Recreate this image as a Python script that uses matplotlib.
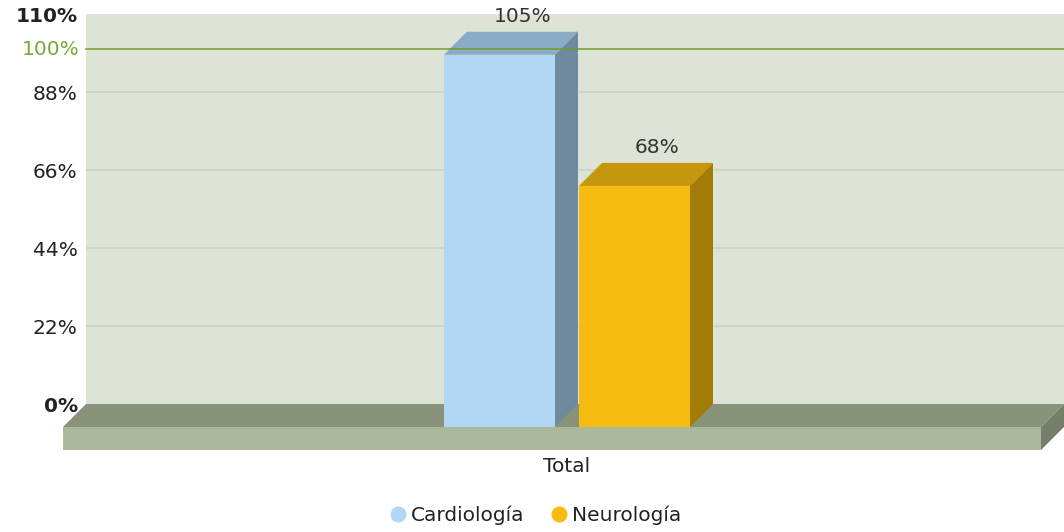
import matplotlib
matplotlib.use('Agg')
import matplotlib.pyplot as plt
from matplotlib.patches import Polygon
from matplotlib.lines import Line2D
from matplotlib.transforms import IdentityTransform

# ---- data ----
categories = ['Total']
series_names = ['Cardiología', 'Neurología']
values = [105, 68]
value_labels = ['105%', '68%']
yticks = [0, 22, 44, 66, 88, 110]
ytick_labels = ['0%', '22%', '44%', '66%', '88%', '110%']
target = 100
target_label = '100%'

front_colors = ['#b2d7f5', '#f5bb10']
top_colors = ['#8aabc6', '#c6960c']
side_colors = ['#6f8a9f', '#a37c08']

plt.rcParams['font.family'] = ['DejaVu Sans']
FS = 14.5

W, H, DPI = 1064, 532, 100
fig = plt.figure(figsize=(W / DPI, H / DPI), dpi=DPI)
L, R, B, T = 86, 1064, 404, 14
ax = fig.add_axes([L / W, 1 - B / H, (R - L) / W, (B - T) / H])
ax.set_facecolor('#dde3d5')
for s in ax.spines.values():
    s.set_visible(False)

unit_px = 270.0
bar_w = 111 / unit_px
pitch = 0.5
ax.set_xlim(-(590 - L) / unit_px, (R - 590) / unit_px)
ax.set_ylim(0, 110)
ax.set_xticks([])
ax.set_yticks(yticks)
ax.set_yticklabels(ytick_labels)
ax.tick_params(axis='y', length=0, pad=6, labelsize=FS, labelcolor='#222222')
for i, lab in enumerate(ax.get_yticklabels()):
    if i == 0 or i == len(yticks) - 1:
        lab.set_fontweight('bold')

for y in yticks[1:-1]:
    ax.axhline(y, color='#cbd1c4', lw=1.2, zorder=0.5)

D = 23  # depth in pixels
fig.canvas.draw()


def px(x, y, dx=0, dy=0):
    X, Y = ax.transData.transform((x, y))
    return (X + dx, Y + dy)


def poly(pts, color, z):
    p = Polygon(pts, closed=True, transform=IdentityTransform(), facecolor=color,
                edgecolor='none', zorder=z, clip_on=False)
    fig.add_artist(p)


xl, xr = ax.get_xlim()
# floor
poly([px(xl, 0), px(xr, 0), px(xr, 0, -D, -D), px(xl, 0, -D, -D)], '#88937a', 2)
poly([px(xl, 0, -D, -D), px(xr, 0, -D, -D), px(xr, 0, -D, -2 * D), px(xl, 0, -D, -2 * D)], '#abb89b', 2)
poly([px(xr, 0, -D, -D), px(xr, 0), px(xr, 0, 0, -D), px(xr, 0, -D, -2 * D)], '#747e68', 2)

# bars
n = len(series_names)
for i, (v, lab) in enumerate(zip(values, value_labels)):
    c = (i - (n - 1) / 2) * pitch
    x0, x1 = c - bar_w / 2, c + bar_w / 2
    poly([px(x0, 0, -D, -D), px(x1, 0, -D, -D), px(x1, v, -D, -D), px(x0, v, -D, -D)], front_colors[i], 3)
    poly([px(x0, v, -D, -D), px(x1, v, -D, -D), px(x1, v), px(x0, v)], top_colors[i], 3)
    poly([px(x1, 0, -D, -D), px(x1, 0), px(x1, v), px(x1, v, -D, -D)], side_colors[i], 3)
    ax.annotate(lab, xy=(c, v), xytext=(0, 15.5), textcoords='offset pixels',
                ha='center', va='center', fontsize=FS, color='#333333',
                annotation_clip=False, zorder=6)

# target line
tl = Line2D([xl, xr], [target, target], transform=ax.transData, color='#6e9d2a',
            lw=1.2, alpha=0.9, zorder=5)
fig.add_artist(tl)
ax.annotate(target_label, xy=(xl, target), xytext=(-6, 0), textcoords='offset pixels',
            ha='right', va='center', fontsize=FS, color='#7aa83a', annotation_clip=False)

# category label
ax.annotate(categories[0], xy=(0, 0), xytext=(-D, -2 * D - 16), textcoords='offset pixels',
            ha='center', va='center', fontsize=FS, color='#222222', annotation_clip=False)

handles = [Line2D([], [], ls='none', marker='o', markersize=11.5, markerfacecolor=front_colors[i],
                  markeredgecolor='none') for i in range(n)]
fig.legend(handles, series_names, loc='center', bbox_to_anchor=(535.5 / W, 1 - 515 / H), ncol=n,
           frameon=False, fontsize=FS, handletextpad=0.25, columnspacing=1.3, handlelength=0.8,
           labelcolor='#222222')

fig.savefig('out.png', dpi=DPI)
